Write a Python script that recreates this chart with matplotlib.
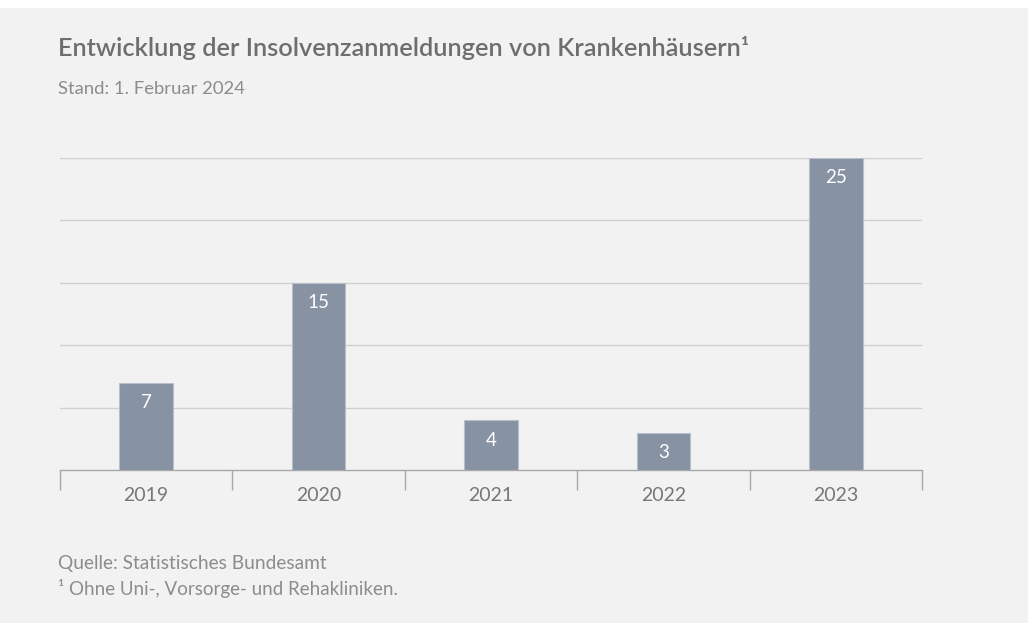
import numpy as np
import matplotlib.pyplot as plt

years = ['2019', '2020', '2021', '2022', '2023']
values = [7, 15, 4, 3, 25]

bg = '#f2f2f2'
bar_color = '#8792a3'

plt.rcParams['font.family'] = ['Lato', 'DejaVu Sans']

fig = plt.figure(figsize=(10.28, 6.23), dpi=100, facecolor='white')
# gray panel below thin white top band
fig.patches.append(plt.Rectangle((0, 0), 1, 1 - 8 / 623, transform=fig.transFigure,
                                 facecolor=bg, edgecolor='none', zorder=-10))

ax = fig.add_axes([60 / 1028, 1 - 470 / 623, (922 - 60) / 1028, (470 - 158) / 623])
ax.set_facecolor('none')

x = np.arange(len(years))
bars = ax.bar(x, values, width=0.31, color=bar_color, edgecolor='#b9bfca',
              linewidth=0.8, zorder=3)
for xi, v in zip(x, values):
    ax.text(xi, v - 1.6, str(v), ha='center', va='center', color='white',
            fontsize=13.5, zorder=4)

ax.set_xlim(-0.5, len(years) - 0.5)
ax.set_ylim(0, 25)
ax.set_yticks([5, 10, 15, 20, 25])
ax.yaxis.grid(True, color='#d0d0d0', linewidth=1, zorder=0)
ax.tick_params(axis='y', length=0, labelleft=False)
for s in ['top', 'right', 'left']:
    ax.spines[s].set_visible(False)
ax.spines['bottom'].set_color('#a8a8a8')
ax.spines['bottom'].set_linewidth(1)

# category labels and separator ticks
ax.set_xticks(x)
ax.set_xticklabels(years, color='#777777', fontsize=14)
ax.tick_params(axis='x', length=0, pad=12)
ax.set_xticks(np.arange(-0.5, len(years)), minor=True)
ax.tick_params(axis='x', which='minor', length=14.5, color='#a8a8a8', width=1)

fig.text(58 / 1028, 1 - 48 / 623, 'Entwicklung der Insolvenzanmeldungen von Krankenhäusern¹',
         fontsize=18.3, fontweight='semibold', color='#6e6e6e', va='center')
fig.text(58 / 1028, 1 - 89 / 623, 'Stand: 1. Februar 2024',
         fontsize=13.3, color='#8c8c8c', va='center')
fig.text(58 / 1028, 1 - 564 / 623, 'Quelle: Statistisches Bundesamt',
         fontsize=13.8, color='#8c8c8c', va='center')
fig.text(58 / 1028, 1 - 589 / 623, '¹ Ohne Uni-, Vorsorge- und Rehakliniken.',
         fontsize=13.5, color='#8c8c8c', va='center')

fig.savefig('out.png', dpi=100, facecolor=fig.get_facecolor())
